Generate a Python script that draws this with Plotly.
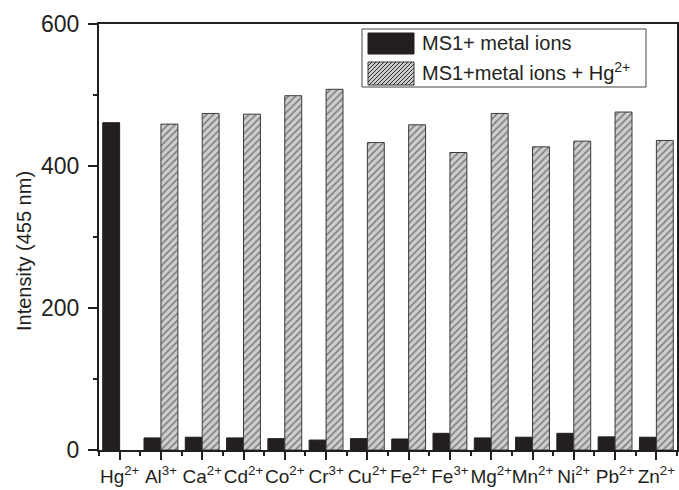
import plotly.graph_objects as go

ions = ["Hg", "Al", "Ca", "Cd", "Co", "Cr", "Cu", "Fe", "Fe", "Mg", "Mn", "Ni", "Pb", "Zn"]
charges = ["2+", "3+", "2+", "2+", "2+", "3+", "2+", "2+", "3+", "2+", "2+", "2+", "2+", "2+"]
metal_only = [461, 17, 18, 17, 16, 14, 16, 15.5, 23.5, 17, 18, 23.5, 18.5, 18]
metal_plus_hg = [None, 459, 474, 473, 499, 508, 433, 458, 419, 474, 427, 435, 476, 436]
series_names = ["MS1+ metal ions", "MS1+metal ions + Hg<sup>2+</sup>"]
y_ticks = [0, 200, 400, 600]

FONT = "Arial, Liberation Sans, sans-serif"
INK = "#231f20"
W, H = 679, 490
ML, MR, MT, MB = 99, 2, 24, 40
PW, PH = W - ML - MR, H - MT - MB

xpos = list(range(len(ions)))
labels = [f"{a}<sup>{c}</sup>" for a, c in zip(ions, charges)]

fig = go.Figure()
fig.add_trace(go.Bar(
    x=xpos, y=metal_only, name=series_names[0],
    marker=dict(color=INK, line=dict(color=INK, width=1)),
    showlegend=False,
))
fig.add_trace(go.Bar(
    x=xpos, y=metal_plus_hg, name=series_names[1],
    marker=dict(color="#c9c9c9", line=dict(color="#3a3a3a", width=1),
                pattern=dict(shape="/", fgcolor="#2a2a2a", bgcolor="#cdcdcd",
                             size=5, solidity=0.3)),
    showlegend=False,
))

axis_common = dict(showline=True, linecolor=INK, linewidth=2, mirror=True,
                   ticks="outside", tickcolor=INK, tickwidth=1.5,
                   showgrid=False, zeroline=False, automargin=False)

fig.update_xaxes(
    **axis_common,
    range=[-0.5, len(ions) - 0.5],
    tickmode="array", tickvals=xpos, ticktext=labels,
    ticklen=8, tickangle=0,
    tickfont=dict(family=FONT, size=19, color=INK),
    minor=dict(tickmode="linear", tick0=0.5, dtick=1, ticks="outside",
               ticklen=4, tickcolor=INK, tickwidth=1.5),
)
fig.update_yaxes(
    **axis_common,
    range=[0, 600],
    tickmode="array", tickvals=y_ticks,
    ticklen=9,
    tickfont=dict(family=FONT, size=23, color=INK),
    ticklabelstandoff=4,
    minor=dict(tickmode="linear", tick0=100, dtick=200, ticks="outside",
               ticklen=4, tickcolor=INK, tickwidth=1.5),
)


def px(xp):
    return (xp - ML) / PW


def py(yp):
    return (H - MB - yp) / PH


shapes = []
# legend box
shapes.append(dict(type="rect", xref="paper", yref="paper",
                   x0=px(362), x1=px(646), y0=py(87), y1=py(29),
                   line=dict(color="#444", width=1), fillcolor="white", layer="above"))
# black swatch
shapes.append(dict(type="rect", xref="paper", yref="paper",
                   x0=px(368), x1=px(414), y0=py(54), y1=py(33),
                   line=dict(color=INK, width=1), fillcolor=INK, layer="above"))
# hatched swatch
sx0, sx1, sy0, sy1 = 368, 414, 62, 85
shapes.append(dict(type="rect", xref="paper", yref="paper",
                   x0=px(sx0), x1=px(sx1), y0=py(sy1), y1=py(sy0),
                   line=dict(color="#3a3a3a", width=1), fillcolor="#cdcdcd", layer="above"))
hh = sy1 - sy0
step = 4
s = sx0 - hh
while s < sx1:
    ax, ay = s, sy1
    bx, by = s + hh, sy0
    if ax < sx0:
        ay = sy1 - (sx0 - ax)
        ax = sx0
    if bx > sx1:
        by = sy0 + (bx - sx1)
        bx = sx1
    if bx > ax:
        shapes.append(dict(type="line", xref="paper", yref="paper",
                           x0=px(ax), y0=py(ay), x1=px(bx), y1=py(by),
                           line=dict(color="#2a2a2a", width=1), layer="above"))
    s += step

annotations = [
    dict(text=series_names[0], xref="paper", yref="paper", x=px(420), y=py(43),
         xanchor="left", yanchor="middle", showarrow=False,
         font=dict(family=FONT, size=20, color=INK)),
    dict(text=series_names[1], xref="paper", yref="paper", x=px(420), y=py(72),
         xanchor="left", yanchor="middle", showarrow=False,
         font=dict(family=FONT, size=20, color=INK)),
    dict(text="Intensity (455 nm)", xref="paper", yref="paper", x=px(24), y=py(251),
         xanchor="center", yanchor="middle", showarrow=False, textangle=-90,
         font=dict(family=FONT, size=20, color=INK)),
]

fig.update_layout(
    width=W, height=H,
    margin=dict(l=ML, r=MR, t=MT, b=MB),
    barmode="group", bargap=0.18, bargroupgap=0,
    plot_bgcolor="white", paper_bgcolor="white",
    shapes=shapes, annotations=annotations,
    showlegend=False,
)

fig.write_html("out.html")
